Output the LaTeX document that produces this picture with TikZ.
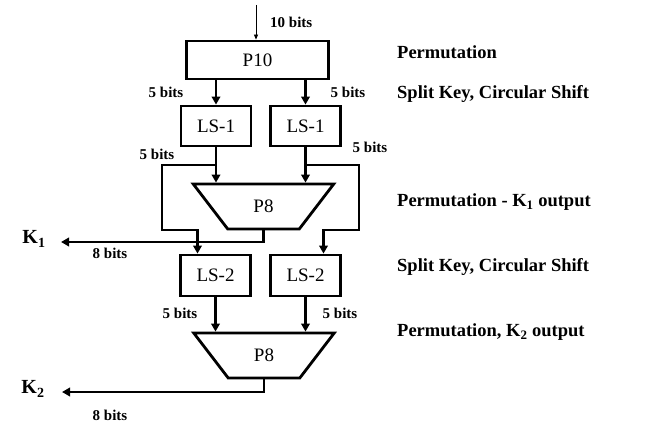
\documentclass[tikz,border=0pt]{standalone}
\usepackage{fontspec}
\setmainfont{Liberation Serif}
\usetikzlibrary{arrows.meta,shapes.geometric,calc}
\begin{document}
\begin{tikzpicture}[x=1pt,y=-1pt,
  blk/.style={draw,line width=2.8pt,rectangle,inner sep=0pt,font=\fontsize{19}{20}\selectfont},
  trap/.style={draw,line width=2.8pt,trapezium,trapezium angle=53,shape border rotate=180,
     trapezium stretches=true,minimum width=141pt,minimum height=45pt,inner sep=0pt,
     font=\fontsize{19}{20}\selectfont},
  arr/.style={line width=2.8pt,-{Triangle[length=8pt,width=8.5pt]}},
  thinarr/.style={line width=0.8pt,-{Triangle[length=5pt,width=4pt]}},
  bits/.style={font=\bfseries\fontsize{15}{16}\selectfont,inner sep=0pt},
  side/.style={font=\bfseries\fontsize{18.5}{20}\selectfont,anchor=west,inner sep=0pt},
  klab/.style={font=\bfseries\fontsize{20}{22}\selectfont,inner sep=0pt}
]
\useasboundingbox (0,0) rectangle (662,433);

% blocks
\node[blk,minimum width=142pt,minimum height=38pt] (p10) at (257.5,60) {P10};
\node[blk,minimum width=70pt,minimum height=40pt] (ls1a) at (216,126) {LS-1};
\node[blk,minimum width=70pt,minimum height=40pt] (ls1b) at (305.5,126) {LS-1};
\node[trap] (p8a) at (263.5,206.5) {P8};
\node[blk,minimum width=70pt,minimum height=41pt] (ls2a) at (215.5,275.5) {LS-2};
\node[blk,minimum width=70pt,minimum height=41pt] (ls2b) at (305.5,275.5) {LS-2};
\node[trap] (p8b) at (264,355.5) {P8};

% outputs
\node[klab] (k1) at (34,239) {K\textsubscript{1}};
\node[klab] (k2) at (33,389) {K\textsubscript{2}};
\coordinate (kc1) at (61,242);
\coordinate (kc2) at (62,392);
\coordinate (in) at (256,5);

% connectors
\draw[thinarr] (in) -- (in |- p10.north);
\draw[arr] (ls1a.north |- p10.south) -- (ls1a.north);
\draw[arr] (ls1b.north |- p10.south) -- (ls1b.north);
\draw[arr] (ls1a.south) -- (ls1a.south |- p8a.north);
\draw[arr] (ls1b.south) -- (ls1b.south |- p8a.north);
\coordinate (ja) at (216,165);
\coordinate (jb) at (305.5,165);
\draw[arr] (ja) -| ++(-54,65) -| ([xshift=-18pt]ls2a.north);
\draw[arr] (jb) -| ++(53.5,65) -| ([xshift=18pt]ls2b.north);
\draw[arr] (p8a.south) |- (kc1);
\draw[arr] (ls2a.south) -- (ls2a.south |- p8b.north);
\draw[arr] (ls2b.south) -- (ls2b.south |- p8b.north);
\draw[arr] (p8b.south) |- (kc2);

% bit labels
\node[bits,anchor=west] (b10) at (270,22) {10 bits};
\node[bits] (b5a) at (166,92) {5 bits};
\node[bits] (b5b) at (348,92) {5 bits};
\node[bits] (b5c) at (157,154) {5 bits};
\node[bits] (b5d) at (370,147) {5 bits};
\node[bits] (b5e) at (180,313) {5 bits};
\node[bits] (b5f) at (340,313) {5 bits};
\node[bits] (b8a) at (110,253) {8 bits};
\node[bits] (b8b) at (110,415) {8 bits};

% side labels
\node[side] (s1) at (397,52) {Permutation};
\node[side] (s2) at (397,94) {Split Key, Circular Shift};
\node[side] (s3) at (397,202) {Permutation - K\textsubscript{1} output};
\node[side] (s4) at (397,267) {Split Key, Circular Shift};
\node[side] (s5) at (397,332) {Permutation, K\textsubscript{2} output};
\end{tikzpicture}
\end{document}
